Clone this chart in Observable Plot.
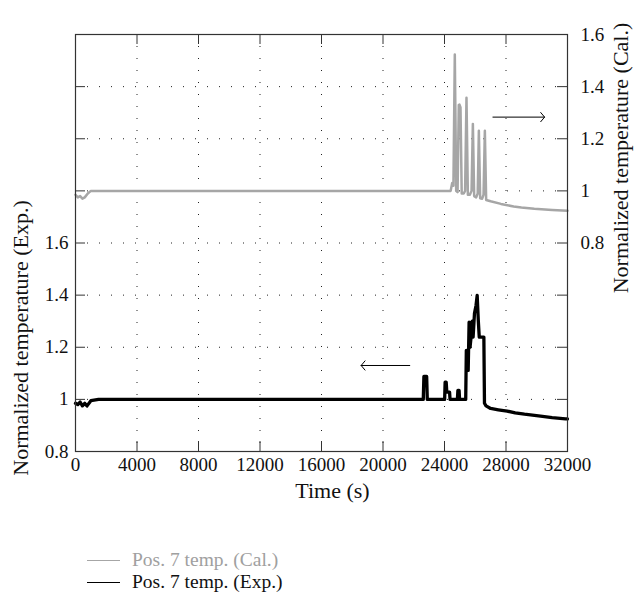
<!DOCTYPE html>
<html><head><meta charset="utf-8">
<script src="https://cdn.jsdelivr.net/npm/d3@7"></script>
<script src="https://cdn.jsdelivr.net/npm/@observablehq/plot@0.6"></script>
<style>
body{margin:0;background:#fff;font-family:"Liberation Serif",serif;}
#legend{padding-top:29px;font-size:19.5px;line-height:22px}
.row{display:flex;align-items:center;height:22px}
.sw{display:inline-block;width:33px;margin-left:87px;margin-right:12px;border-top:1.5px solid}
</style></head><body><div id="chart"></div><div id="legend"></div>
<script>
// ---- data ----
const xTicks = [0, 4000, 8000, 12000, 16000, 20000, 24000, 28000, 32000];
const expDomain = [0.8, 2.4];
const calDomain = [0, 1.6];
const expTickMarks = [0.8, 1, 1.2, 1.4, 1.6, 1.8, 2, 2.2, 2.4];
const expTickLabels = [0.8, 1, 1.2, 1.4, 1.6];
const calTickLabels = [0.8, 1, 1.2, 1.4, 1.6];
const seriesNames = ["Pos. 7 temp. (Cal.)", "Pos. 7 temp. (Exp.)"];
const seriesColors = ["#a6a6a6", "#000000"];
const xTitle = "Time (s)";
const yLeftTitle = "Normalized temperature (Exp.)";
const yRightTitle = "Normalized temperature (Cal.)";

const calTime  = [0, 150, 300, 450, 600, 800, 1000, 1500, 4000, 8000, 12000, 16000, 20000, 24000, 24400, 24500, 24580, 24670, 24760, 24850, 24930, 24975, 25040, 25120, 25250, 25340, 25430, 25520, 25650, 25760, 25845, 25930, 26060, 26160, 26235, 26320, 26450, 26540, 26625, 26710, 27000, 27670, 28500, 29000, 29840, 31000, 32000];
const calValue = [0.985, 0.975, 0.98, 0.97, 0.975, 0.99, 1.0, 1.0, 1.0, 1.0, 1.0, 1.0, 1.0, 1.0, 1.0, 1.03, 1.02, 1.523, 1.0, 0.995, 1.33, 1.331, 1.32, 0.99, 0.99, 1.0, 1.357, 0.985, 0.985, 1.0, 1.257, 0.98, 0.975, 0.99, 1.231, 0.972, 0.97, 0.985, 1.231, 0.965, 0.96, 0.95, 0.94, 0.936, 0.931, 0.927, 0.924];

const expTime  = [0, 150, 300, 450, 600, 750, 1000, 1500, 4000, 8000, 12000, 16000, 20000, 22620, 22660, 22840, 22880, 24010, 24040, 24110, 24150, 24330, 24360, 24840, 24870, 24950, 24980, 25380, 25420, 25480, 25540, 25600, 25660, 25730, 25800, 25860, 25950, 26050, 26125, 26200, 26260, 26400, 26560, 26600, 26700, 27000, 27500, 28076, 28600, 29200, 30245, 31000, 31870, 32000];
const expValue = [0.985, 0.98, 0.99, 0.975, 0.985, 0.975, 0.995, 1.0, 1.0, 1.0, 1.0, 1.0, 1.0, 1.0, 1.088, 1.088, 1.0, 1.0, 1.066, 1.066, 1.028, 1.028, 1.0, 1.0, 1.034, 1.034, 1.0, 1.0, 1.188, 1.15, 1.111, 1.296, 1.2, 1.24, 1.3, 1.239, 1.33, 1.36, 1.399, 1.3, 1.239, 1.239, 1.239, 0.985, 0.975, 0.965, 0.96, 0.955, 0.948, 0.943, 0.936, 0.93, 0.925, 0.925];

const arrowCal = [{x1: 27150, x2: 30510, y: 1.283}];
const arrowExp = [{x1: 21740, x2: 18580, y: 1.130}];

// ---- build ----
const calToExp = v => expDomain[0] + (v - calDomain[0]);
const calData = calTime.map((t, i) => ({t, v: calToExp(calValue[i])}));
const expData = expTime.map((t, i) => ({t, v: expValue[i]}));
const W = 638, H = 520, mL = 75, mR = 71, mT = 34, mB = 69;
const plotW = W - mL - mR, plotH = H - mT - mB;
const tickLen = 10, tickColor = "#333";
const fmt = d => String(+d.toFixed(2));
const dotted = {stroke: "#222", strokeOpacity: 1, strokeWidth: 1, strokeDasharray: "1,11"};

const chart = Plot.plot({
  width: W, height: H,
  marginLeft: mL, marginRight: mR, marginTop: mT, marginBottom: mB,
  style: {fontFamily: "'Liberation Serif', serif", fontSize: "19px", background: "white", color: "#111"},
  x: {domain: [xTicks[0], xTicks[xTicks.length - 1]], axis: null},
  y: {domain: expDomain, axis: null},
  marks: [
    Plot.gridX(xTicks.slice(1, -1), dotted),
    Plot.gridY(expTickMarks.slice(1, -1), dotted),
    Plot.line(calData, {x: "t", y: "v", stroke: seriesColors[0], strokeWidth: 2.5}),
    Plot.line(expData, {x: "t", y: "v", stroke: seriesColors[1], strokeWidth: 3.3}),
    Plot.arrow(arrowCal, {x1: "x1", x2: "x2", y1: d => calToExp(d.y), y2: d => calToExp(d.y), stroke: "#000", strokeWidth: 1, headAngle: 100, headLength: 9}),
    Plot.arrow(arrowExp, {x1: "x1", x2: "x2", y1: "y", y2: "y", stroke: "#000", strokeWidth: 1, headAngle: 100, headLength: 9}),
    Plot.tickX(xTicks, {x: d => d, insetTop: plotH - tickLen, stroke: tickColor}),
    Plot.tickX(xTicks, {x: d => d, insetBottom: plotH - tickLen, stroke: tickColor}),
    Plot.tickY(expTickMarks, {y: d => d, insetRight: plotW - tickLen, stroke: tickColor}),
    Plot.tickY(expTickMarks, {y: d => d, insetLeft: plotW - tickLen, stroke: tickColor}),
    Plot.axisX({ticks: xTicks, tickSize: 0, tickPadding: 6, tickFormat: d => String(d), label: null, fontSize: 19}),
    Plot.axisY({anchor: "left", ticks: expTickLabels, tickSize: 0, tickPadding: 7, tickFormat: fmt, label: null, fontSize: 19}),
    Plot.axisY({anchor: "right", ticks: calTickLabels.map(v => +calToExp(v).toFixed(4)), tickSize: 0, tickPadding: 13, tickFormat: d => fmt(d - (expDomain[0] - calDomain[0])), label: null, fontSize: 19}),
    Plot.frame({stroke: "#333", strokeWidth: 1.2}),
    Plot.text([xTitle], {frameAnchor: "bottom", textAnchor: "middle", dy: 46, dx: 11, fontSize: 22, fill: "#111"}),
    Plot.text([yLeftTitle], {frameAnchor: "left", textAnchor: "middle", dx: -55, dy: 95, rotate: -90, fontSize: 22, fill: "#111"}),
    Plot.text([yRightTitle], {frameAnchor: "right", textAnchor: "middle", dx: 53, dy: -85, rotate: -90, fontSize: 22, fill: "#111"})
  ]
});
document.getElementById("chart").appendChild(chart);

const legend = document.getElementById("legend");
seriesNames.forEach((name, i) => {
  const row = document.createElement("div");
  row.className = "row";
  const sw = document.createElement("span");
  sw.className = "sw";
  sw.style.borderTopColor = seriesColors[i];
  const tx = document.createElement("span");
  tx.textContent = name;
  tx.style.color = i === 0 ? "#a0a0a0" : "#111";
  row.appendChild(sw); row.appendChild(tx);
  legend.appendChild(row);
});
</script></body></html>
